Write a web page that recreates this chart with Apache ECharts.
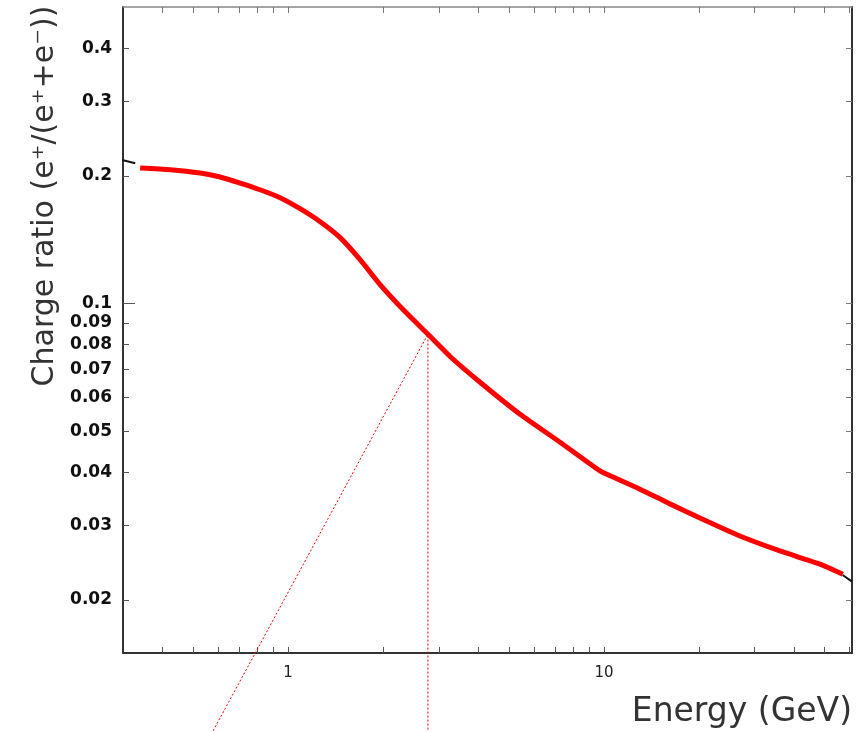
<!DOCTYPE html>
<html>
<head>
<meta charset="utf-8">
<title>Charge ratio</title>
<script src="https://cdn.jsdelivr.net/npm/echarts@6/dist/echarts.min.js"></script>
<style>
  html, body { margin: 0; padding: 0; background: #fff; }
  #chart { width: 860px; height: 732px; }
</style>
</head>
<body>
<div id="chart"></div>
<script>
// energy (GeV) and charge ratio
var energy = [0.340, 0.423, 0.527, 0.609, 0.705, 0.815, 0.943, 1.091, 1.263, 1.461, 1.690, 1.955, 2.262, 2.579,
              2.773, 3.256, 4.052, 5.423, 7.258, 9.712, 10.68, 13.00, 16.18, 20.13, 26.94, 36.06, 48.27, 57.05];
var ratio  = [0.2086, 0.2067, 0.2030, 0.1987, 0.1923, 0.1854, 0.1776, 0.1673, 0.1559, 0.1430, 0.1269, 0.1108, 0.0984, 0.0892,
              0.0846, 0.0750, 0.0652, 0.0548, 0.0471, 0.0403, 0.0390, 0.0365, 0.0337, 0.0312, 0.0283, 0.0261, 0.0243, 0.0230];

// short black pieces at both ends of the curve
var endLeft  = [[0.298, 0.218], [0.328, 0.214]];
var endRight = [[57.0, 0.0229], [61.0, 0.0221]];

// dotted guide lines (run past the bottom of the frame)
var guideE = [0.579, 2.77, 2.77];
var guideR = [0.00984, 0.0846, 0.00984];

var yTicks  = [0.02, 0.03, 0.04, 0.05, 0.06, 0.07, 0.08, 0.09, 0.1, 0.2, 0.3, 0.4];
var yMajor  = [0.1];
var xTicks  = [0.4, 0.5, 0.6, 0.7, 0.8, 0.9, 1, 2, 3, 4, 5, 6, 7, 8, 9, 10, 20, 30, 40, 50, 60];
var xLabels = [1, 10];

function pairs(a, b) {
  var out = [];
  for (var i = 0; i < a.length; i++) out.push([a[i], b[i]]);
  return out;
}

var myChart = echarts.init(document.getElementById('chart'));
var axisCol = '#333';

option = {
  animation: false,
  backgroundColor: '#fff',
  grid: { left: 123, right: 8, top: 7, bottom: 79 },
  xAxis: [
    {
      type: 'log', min: 0.3, max: 61, position: 'bottom',
      axisLine: { show: true, lineStyle: { color: axisCol, width: 2 } },
      axisTick: { show: true, inside: true, length: 6, customValues: xTicks, lineStyle: { color: '#555' } },
      axisLabel: { show: true, customValues: xLabels, margin: 13, color: '#222', fontSize: 15,
                   fontFamily: 'DejaVu Sans' },
      splitLine: { show: false },
      name: 'Energy (GeV)', nameLocation: 'end', nameGap: 0,
      nameTextStyle: { align: 'right', verticalAlign: 'top', padding: [43, 0, 0, 0],
                       fontSize: 33, color: '#333', fontFamily: 'DejaVu Sans' }
    },
    {
      type: 'log', min: 0.3, max: 61, position: 'top',
      axisLine: { show: true, lineStyle: { color: '#888', width: 1.5 } },
      axisTick: { show: true, inside: true, length: 6, customValues: xTicks, lineStyle: { color: '#777' } },
      axisLabel: { show: false },
      splitLine: { show: false }
    }
  ],
  yAxis: [
    {
      type: 'log', min: 0.015, max: 0.5, position: 'left',
      axisLine: { show: true, lineStyle: { color: axisCol, width: 2 } },
      axisTick: { show: true, inside: true, length: 6, customValues: yTicks, lineStyle: { color: '#555' } },
      axisLabel: { show: true, customValues: yTicks, margin: 11, color: '#111', fontSize: 17,
                   fontWeight: 'bold', fontFamily: 'DejaVu Sans',
                   formatter: function (v) { return String(+v.toPrecision(2)); } },
      splitLine: { show: false }
    },
    {
      type: 'log', min: 0.015, max: 0.5, position: 'left',
      axisLine: { show: false },
      axisTick: { show: true, inside: true, length: 12, customValues: yMajor, lineStyle: { color: '#555' } },
      axisLabel: { show: false },
      splitLine: { show: false }
    },
    {
      type: 'log', min: 0.015, max: 0.5, position: 'right',
      axisLine: { show: true, lineStyle: { color: axisCol, width: 2 } },
      axisTick: { show: true, inside: true, length: 6, customValues: yTicks, lineStyle: { color: '#777' } },
      axisLabel: { show: false },
      splitLine: { show: false }
    }
  ],
  graphic: [
    {
      type: 'text', x: 45, y: 196, rotation: Math.PI / 2,
      style: {
        text: 'Charge ratio (e\u207A/(e\u207A+e\u207B))',
        fill: '#333', fontSize: 30, fontFamily: 'DejaVu Sans',
        align: 'center', verticalAlign: 'middle'
      }
    }
  ],
  series: [
    {
      name: 'guide', type: 'line', data: pairs(guideE, guideR),
      clip: false, symbol: 'none', silent: true,
      lineStyle: { color: '#e00', width: 1, type: [2, 2] }
    },
    {
      name: 'ratio', type: 'line', data: pairs(energy, ratio),
      smooth: 0.2, symbol: 'none',
      lineStyle: { color: '#ff0000', width: 5 }, z: 5
    },
    {
      name: 'endL', type: 'line', data: endLeft, symbol: 'none',
      lineStyle: { color: '#111', width: 2 }
    },
    {
      name: 'endR', type: 'line', data: endRight, symbol: 'none',
      lineStyle: { color: '#111', width: 2 }
    }
  ]
};

myChart.setOption(option);
</script>
</body>
</html>
